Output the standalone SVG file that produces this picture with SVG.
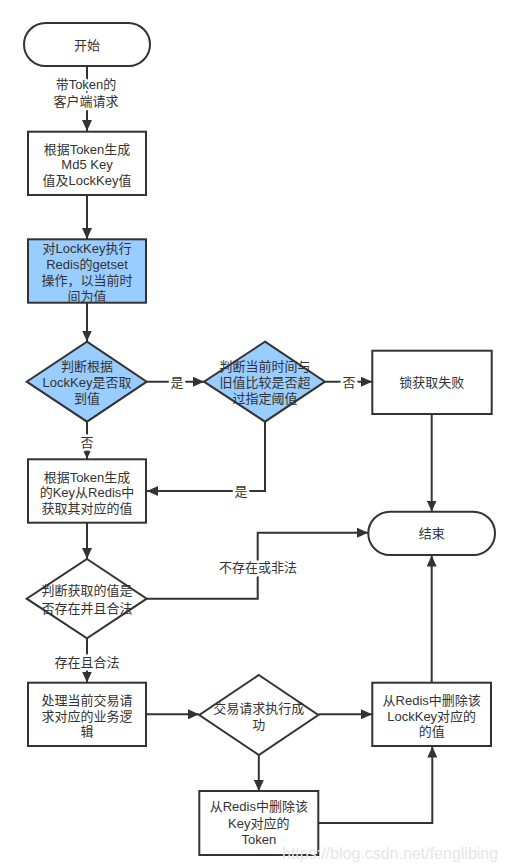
<svg xmlns="http://www.w3.org/2000/svg" width="505" height="865" viewBox="0 0 505 865">
<style>
.n{fill:#fff;stroke:#333;stroke-width:2}
.b{fill:#99ccff;stroke:#333;stroke-width:2}
.c{fill:none;stroke:#333;stroke-width:2}
text{font-family:"Liberation Sans","Noto Sans CJK SC",sans-serif;font-size:13px;fill:#333;text-anchor:middle;dominant-baseline:central}
.l{stroke:#fff;stroke-width:5;paint-order:stroke;stroke-linejoin:round}
.w{font-family:"Liberation Sans",Arial,sans-serif;font-size:16px;fill:#e6e6e6;text-anchor:start}
</style>
<defs>
<marker id="a" markerUnits="userSpaceOnUse" markerWidth="11" markerHeight="10" refX="11" refY="5" orient="auto">
<path d="M0,0 L11,5 L0,10 z" fill="#333"/>
</marker>
</defs>
<g id="connectors">
<path class="c" d="M87,66 V131" marker-end="url(#a)"/>
<path class="c" d="M87,195 V239" marker-end="url(#a)"/>
<path class="c" d="M87,303 V341.5" marker-end="url(#a)"/>
<path class="c" d="M147,381.7 H204" marker-end="url(#a)"/>
<path class="c" d="M325,381.7 H372" marker-end="url(#a)"/>
<path class="c" d="M87,422 V459" marker-end="url(#a)"/>
<path class="c" d="M265,422 V491 H147" marker-end="url(#a)"/>
<path class="c" d="M431.7,414 V511.5" marker-end="url(#a)"/>
<path class="c" d="M87,523 V559" marker-end="url(#a)"/>
<path class="c" d="M147,598.7 H257.7 V532.7 H368" marker-end="url(#a)"/>
<path class="c" d="M87,638.5 V682.5" marker-end="url(#a)"/>
<path class="c" d="M146,714.3 H199" marker-end="url(#a)"/>
<path class="c" d="M318.5,714.3 H372" marker-end="url(#a)"/>
<path class="c" d="M431.7,682.7 V555.5" marker-end="url(#a)"/>
<path class="c" d="M258.8,755 V791" marker-end="url(#a)"/>
<path class="c" d="M318.5,823 H432.3 V746.5" marker-end="url(#a)"/>
<text class="l" x="86" y="84">带Token的</text>
<text class="l" x="86" y="101">客户端请求</text>
<text class="l" x="177" y="382">是</text>
<text class="l" x="349" y="382">否</text>
<text class="l" x="87" y="442">否</text>
<text class="l" x="241" y="491">是</text>
<text class="l" x="258" y="567">不存在或非法</text>
<text class="l" x="87" y="662">存在且合法</text>
</g>
<g id="start">
<rect class="n" x="24" y="23" width="126" height="43" rx="21.5"/>
<text x="87" y="45">开始</text>
</g>
<g id="genkey">
<rect class="n" x="28" y="131.7" width="118" height="63.3"/>
<text x="87" y="149">根据Token生成</text>
<text x="87" y="164.5">Md5 Key</text>
<text x="87" y="180">值及LockKey值</text>
</g>
<g id="getset">
<rect class="b" x="28" y="239.3" width="118" height="63.4"/>
<text x="87" y="248">对LockKey执行</text>
<text x="87" y="264">Redis的getset</text>
<text x="87" y="280">操作，以当前时</text>
<text x="87" y="296">间为值</text>
</g>
<g id="check1">
<polygon class="b" points="87,341.7 146.7,381.7 87,421.7 26.7,381.7"/>
<text x="87" y="366">判断根据</text>
<text x="87" y="382">LockKey是否取</text>
<text x="87" y="398">到值</text>
</g>
<g id="check2">
<polygon class="b" points="265,341.7 325,381.7 265,421.7 204,381.7"/>
<text x="265" y="366">判断当前时间与</text>
<text x="265" y="382">旧值比较是否超</text>
<text x="265" y="398">过指定阈值</text>
</g>
<g id="fail">
<rect class="n" x="372.3" y="350.7" width="119.4" height="63.3"/>
<text x="431.7" y="382">锁获取失败</text>
</g>
<g id="getvalue">
<rect class="n" x="28" y="459.3" width="118" height="63.4"/>
<text x="87" y="477">根据Token生成</text>
<text x="87" y="492.7">的Key从Redis中</text>
<text x="87" y="508.3">获取其对应的值</text>
</g>
<g id="end">
<rect class="n" x="368.3" y="511.7" width="126.7" height="43.3" rx="21.6"/>
<text x="431.7" y="533.3">结束</text>
</g>
<g id="check3">
<polygon class="n" points="87,559 146.7,598.7 87,638.3 26.7,598.7"/>
<text x="87" y="590.7">判断获取的值是</text>
<text x="87" y="608.3">否存在并且合法</text>
</g>
<g id="process">
<rect class="n" x="28" y="682.7" width="118" height="63.3"/>
<text x="87" y="700.7">处理当前交易请</text>
<text x="87" y="716">求对应的业务逻</text>
<text x="87" y="731.7">辑</text>
</g>
<g id="check4">
<polygon class="n" points="258.8,675 318.3,715 258.8,755 199.3,715"/>
<text x="258.8" y="708.5">交易请求执行成</text>
<text x="258.8" y="724">功</text>
</g>
<g id="dellock">
<rect class="n" x="372.3" y="682.7" width="118.7" height="63.3"/>
<text x="431.7" y="700.7">从Redis中删除该</text>
<text x="431.7" y="716">LockKey对应的</text>
<text x="431.7" y="731.7">的值</text>
</g>
<g id="deltoken">
<rect class="n" x="199.3" y="791" width="119" height="64"/>
<text x="258.8" y="806.7">从Redis中删除该</text>
<text x="258.8" y="823.3">Key对应的</text>
<text x="258.8" y="839.3">Token</text>
</g>
<text class="w" x="282" y="853">https://blog.csdn.net/fenglibing</text>
</svg>
